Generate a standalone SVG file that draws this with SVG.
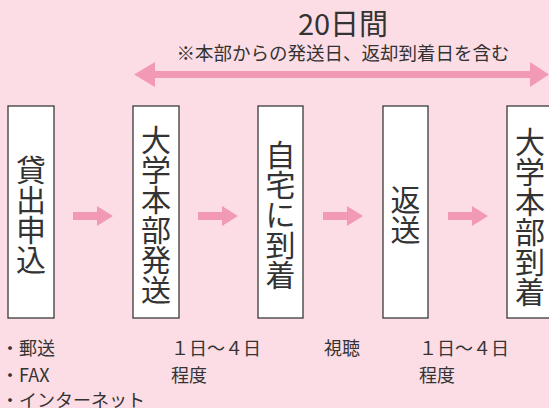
<svg xmlns="http://www.w3.org/2000/svg" width="549" height="408" viewBox="0 0 549 408">
<defs>
<style>
.bg{fill:#fcdde5}
.box{fill:#ffffff;stroke:#3a3a3a;stroke-width:1.3}
.arr{fill:#f29ab5}
text{font-family:"Noto Sans CJK JP","Noto Sans",sans-serif;fill:#333333}
.v{font-size:30px;text-anchor:middle}
.s{font-size:18px}
</style>
</defs>
<rect class="bg" x="0" y="0" width="549" height="408"/>
<g id="title">
<text x="343" y="35" style="font-size:29px" text-anchor="middle">20日間</text>
<text x="343" y="59.5" style="font-size:18.5px" text-anchor="middle">※本部からの発送日、返却到着日を含む</text>
</g>
<g id="period-arrow">
<path class="arr" d="M134,74.5 L155,62 V71 H530 V62 L549,74.5 L530,87 V78 H155 V87 Z"/>
</g>
<g id="node1">
<rect class="box" x="8" y="106" width="46" height="212"/>
<text class="v"><tspan x="31" y="181">貸</tspan><tspan x="31" y="211">出</tspan><tspan x="31" y="241">申</tspan><tspan x="31" y="271">込</tspan></text>
</g>
<g id="node2">
<rect class="box" x="133" y="106" width="46" height="212"/>
<text class="v"><tspan x="156" y="151">大</tspan><tspan x="156" y="181">学</tspan><tspan x="156" y="211">本</tspan><tspan x="156" y="241">部</tspan><tspan x="156" y="271">発</tspan><tspan x="156" y="301">送</tspan></text>
</g>
<g id="node3">
<rect class="box" x="258" y="106" width="45" height="212"/>
<text class="v"><tspan x="280.5" y="166">自</tspan><tspan x="280.5" y="196">宅</tspan><tspan x="280.5" y="226">に</tspan><tspan x="280.5" y="256">到</tspan><tspan x="280.5" y="286">着</tspan></text>
</g>
<g id="node4">
<rect class="box" x="383" y="106" width="45" height="212"/>
<text class="v"><tspan x="405.5" y="211">返</tspan><tspan x="405.5" y="241">送</tspan></text>
</g>
<g id="node5">
<rect class="box" x="507" y="106" width="46" height="212"/>
<text class="v"><tspan x="530" y="153">大</tspan><tspan x="530" y="183">学</tspan><tspan x="530" y="213">本</tspan><tspan x="530" y="243">部</tspan><tspan x="530" y="273">到</tspan><tspan x="530" y="303">着</tspan></text>
</g>
<g id="connectors">
<path class="arr" d="M73,212 H97 V206 L113,216 L97,226 V220 H73 Z"/>
<path class="arr" d="M198,212 H222 V206 L238,216 L222,226 V220 H198 Z"/>
<path class="arr" d="M323,212 H347 V206 L363,216 L347,226 V220 H323 Z"/>
<path class="arr" d="M448,212 H472 V206 L488,216 L472,226 V220 H448 Z"/>
</g>
<g id="notes">
<text class="s" x="1" y="355">・郵送</text>
<text class="s" x="1" y="382">・FAX</text>
<text class="s" x="1" y="407">・インターネット</text>
<text class="s" x="171" y="355">１日〜４日</text>
<text class="s" x="171" y="382">程度</text>
<text class="s" x="324" y="355">視聴</text>
<text class="s" x="419" y="355">１日〜４日</text>
<text class="s" x="419" y="382">程度</text>
</g>
</svg>
